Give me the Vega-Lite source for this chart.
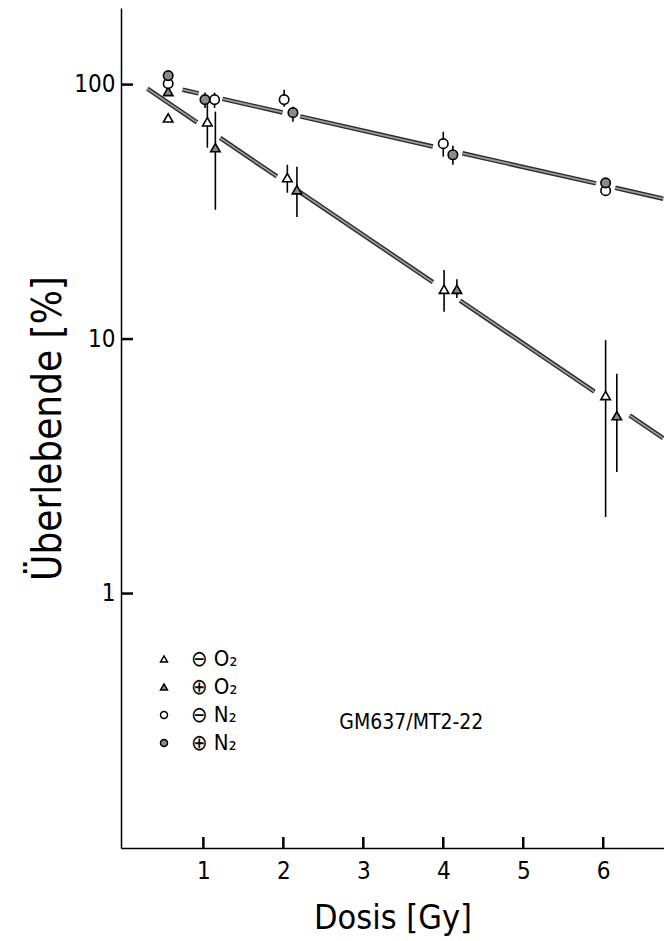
{
  "$schema": "https://vega.github.io/schema/vega-lite/v6.json",
  "width": 543,
  "height": 840,
  "autosize": "none",
  "padding": {"left": 121, "top": 8, "right": 0, "bottom": 93},
  "background": "white",
  "config": {
    "view": {"stroke": null},
    "font": "DejaVu Sans Condensed",
    "axis": {
      "grid": false,
      "ticks": false,
      "domainColor": "black",
      "domainWidth": 1.5,
      "labelColor": "black",
      "titleColor": "black",
      "labelFont": "DejaVu Sans Condensed",
      "titleFont": "DejaVu Sans Condensed",
      "titleFontWeight": "normal"
    }
  },
  "datasets": {
    "tkx": [{"v": 1, "base": 0.1}, {"v": 2, "base": 0.1}, {"v": 3, "base": 0.1}, {"v": 4, "base": 0.1}, {"v": 5, "base": 0.1}, {"v": 6, "base": 0.1}],
    "tky": [{"v": 1, "base": -0.03}, {"v": 10, "base": -0.03}, {"v": 100, "base": -0.03}],
    "fits": [
      {"fit": "O2", "x1": 0.30, "y1": 96.4, "x2": 0.92, "y2": 71.1},
      {"fit": "O2", "x1": 1.21, "y1": 61.7, "x2": 1.92, "y2": 43.55},
      {"fit": "O2", "x1": 2.17, "y1": 38.5, "x2": 3.87, "y2": 16.74},
      {"fit": "O2", "x1": 4.21, "y1": 14.17, "x2": 5.89, "y2": 6.21},
      {"fit": "O2", "x1": 6.33, "y1": 5.01, "x2": 6.75, "y2": 4.08},
      {"fit": "N2", "x1": 0.74, "y1": 95.5, "x2": 0.94, "y2": 92.4},
      {"fit": "N2", "x1": 1.24, "y1": 87.9, "x2": 1.99, "y2": 77.7},
      {"fit": "N2", "x1": 2.21, "y1": 75.0, "x2": 3.87, "y2": 57.1},
      {"fit": "N2", "x1": 4.24, "y1": 53.7, "x2": 5.91, "y2": 40.9},
      {"fit": "N2", "x1": 6.15, "y1": 39.3, "x2": 6.75, "y2": 35.6}
    ],
    "points": [
      {"series": "⊖ O₂", "dose": 0.56, "surv": 74},
      {"series": "⊖ O₂", "dose": 1.05, "surv": 71.4, "lo": 56.5, "hi": 84},
      {"series": "⊖ O₂", "dose": 2.05, "surv": 43.1, "lo": 37.6, "hi": 48.4},
      {"series": "⊖ O₂", "dose": 4.01, "surv": 15.7, "lo": 12.8, "hi": 18.7},
      {"series": "⊖ O₂", "dose": 6.03, "surv": 6.0, "lo": 2.0, "hi": 9.9},
      {"series": "⊕ O₂", "dose": 0.56, "surv": 93.9},
      {"series": "⊕ O₂", "dose": 1.15, "surv": 56.5, "lo": 32.2, "hi": 78.3},
      {"series": "⊕ O₂", "dose": 2.17, "surv": 38.6, "lo": 30.2, "hi": 47.6},
      {"series": "⊕ O₂", "dose": 4.17, "surv": 15.7, "lo": 14.5, "hi": 17.2},
      {"series": "⊕ O₂", "dose": 6.17, "surv": 5.0, "lo": 3.0, "hi": 7.3},
      {"series": "⊖ N₂", "dose": 0.56, "surv": 100.9},
      {"series": "⊖ N₂", "dose": 1.14, "surv": 87.3, "lo": 81, "hi": 93},
      {"series": "⊖ N₂", "dose": 2.01, "surv": 87.3, "lo": 81.8, "hi": 95.5},
      {"series": "⊖ N₂", "dose": 4.0, "surv": 58.6, "lo": 52.1, "hi": 65.3},
      {"series": "⊖ N₂", "dose": 6.03, "surv": 38.3},
      {"series": "⊕ N₂", "dose": 0.56, "surv": 108.5},
      {"series": "⊕ N₂", "dose": 1.02, "surv": 87.3, "lo": 81, "hi": 93},
      {"series": "⊕ N₂", "dose": 2.12, "surv": 77.6, "lo": 71.5, "hi": 81.8},
      {"series": "⊕ N₂", "dose": 4.12, "surv": 53.0, "lo": 48.4, "hi": 57.5},
      {"series": "⊕ N₂", "dose": 6.03, "surv": 41.1}
    ],
    "labels": [
      {"dose": 3.6, "surv": 0.31, "text": "GM637/MT2-22"}
    ]
  },
  "layer": [
    {
      "data": {"name": "tkx"},
      "mark": {"type": "rule", "color": "black", "strokeWidth": 2.5, "y2Offset": -11},
      "encoding": {
        "x": {"field": "v", "type": "quantitative", "scale": {"domain": [-0.03, 6.76], "nice": false, "zero": false},
          "axis": {"values": [1, 2, 3, 4, 5, 6], "format": "d", "title": "Dosis [Gy]", "labelPadding": 11, "labelFontSize": 24, "titleFontSize": 34, "titlePadding": 18, "labelFlush": false}},
        "y": {"field": "base", "type": "quantitative", "scale": {"type": "log", "domain": [0.1, 200], "nice": false},
          "axis": {"values": [1, 10, 100], "format": "d", "title": "Überlebende [%]", "labelPadding": 6, "labelFontSize": 24, "titleFontSize": 40, "titlePadding": 5, "labelFlush": false}},
        "y2": {"field": "base"}
      }
    },
    {
      "data": {"name": "tky"},
      "mark": {"type": "rule", "color": "black", "strokeWidth": 2.5, "x2Offset": 12},
      "encoding": {
        "y": {"field": "v", "type": "quantitative"},
        "x": {"field": "base", "type": "quantitative"},
        "x2": {"field": "base"}
      }
    },
    {
      "data": {"name": "fits"},
      "mark": {"type": "rule", "color": "#2a2a2a", "strokeWidth": 4.5, "strokeCap": "butt"},
      "encoding": {
        "x": {"field": "x1", "type": "quantitative"},
        "x2": {"field": "x2"},
        "y": {"field": "y1", "type": "quantitative"},
        "y2": {"field": "y2"}
      }
    },
    {
      "data": {"name": "fits"},
      "mark": {"type": "rule", "color": "#9a9a9a", "strokeWidth": 1.8, "strokeCap": "butt"},
      "encoding": {
        "x": {"field": "x1", "type": "quantitative"},
        "x2": {"field": "x2"},
        "y": {"field": "y1", "type": "quantitative"},
        "y2": {"field": "y2"}
      }
    },
    {
      "data": {"name": "points"},
      "transform": [{"filter": "isValid(datum.lo)"}],
      "mark": {"type": "rule", "color": "black", "strokeWidth": 1.6},
      "encoding": {
        "x": {"field": "dose", "type": "quantitative"},
        "y": {"field": "lo", "type": "quantitative"},
        "y2": {"field": "hi"}
      }
    },
    {
      "data": {"name": "points"},
      "mark": {"type": "point", "filled": true, "strokeWidth": 1.6, "size": 90, "opacity": 1},
      "encoding": {
        "x": {"field": "dose", "type": "quantitative"},
        "y": {"field": "surv", "type": "quantitative"},
        "shape": {"field": "series", "type": "nominal",
          "scale": {"domain": ["⊖ O₂", "⊕ O₂", "⊖ N₂", "⊕ N₂"], "range": ["triangle-up", "triangle-up", "circle", "circle"]},
          "legend": {"orient": "none", "legendX": 32, "legendY": 640, "title": null, "labelFontSize": 22, "labelFont": "DejaVu Sans Condensed", "labelColor": "black", "symbolSize": 50, "symbolStrokeWidth": 1.4, "rowPadding": 6, "labelOffset": 16}},
        "fill": {"field": "series", "type": "nominal",
          "scale": {"domain": ["⊖ O₂", "⊕ O₂", "⊖ N₂", "⊕ N₂"], "range": ["white", "#8a8a8a", "white", "#8a8a8a"]},
          "legend": {"orient": "none", "legendX": 32, "legendY": 640, "title": null, "labelFontSize": 22, "labelFont": "DejaVu Sans Condensed", "labelColor": "black", "symbolSize": 50, "symbolStrokeWidth": 1.4, "rowPadding": 6, "labelOffset": 16}},
        "stroke": {"field": "series", "type": "nominal",
          "scale": {"domain": ["⊖ O₂", "⊕ O₂", "⊖ N₂", "⊕ N₂"], "range": ["black", "black", "black", "black"]},
          "legend": {"orient": "none", "legendX": 32, "legendY": 640, "title": null, "labelFontSize": 22, "labelFont": "DejaVu Sans Condensed", "labelColor": "black", "symbolSize": 50, "symbolStrokeWidth": 1.4, "rowPadding": 6, "labelOffset": 16}}
      }
    },
    {
      "data": {"name": "labels"},
      "mark": {"type": "text", "fontSize": 21, "font": "DejaVu Sans Condensed", "color": "black", "align": "center", "baseline": "middle"},
      "encoding": {
        "x": {"field": "dose", "type": "quantitative"},
        "y": {"field": "surv", "type": "quantitative"},
        "text": {"field": "text"}
      }
    }
  ]
}
